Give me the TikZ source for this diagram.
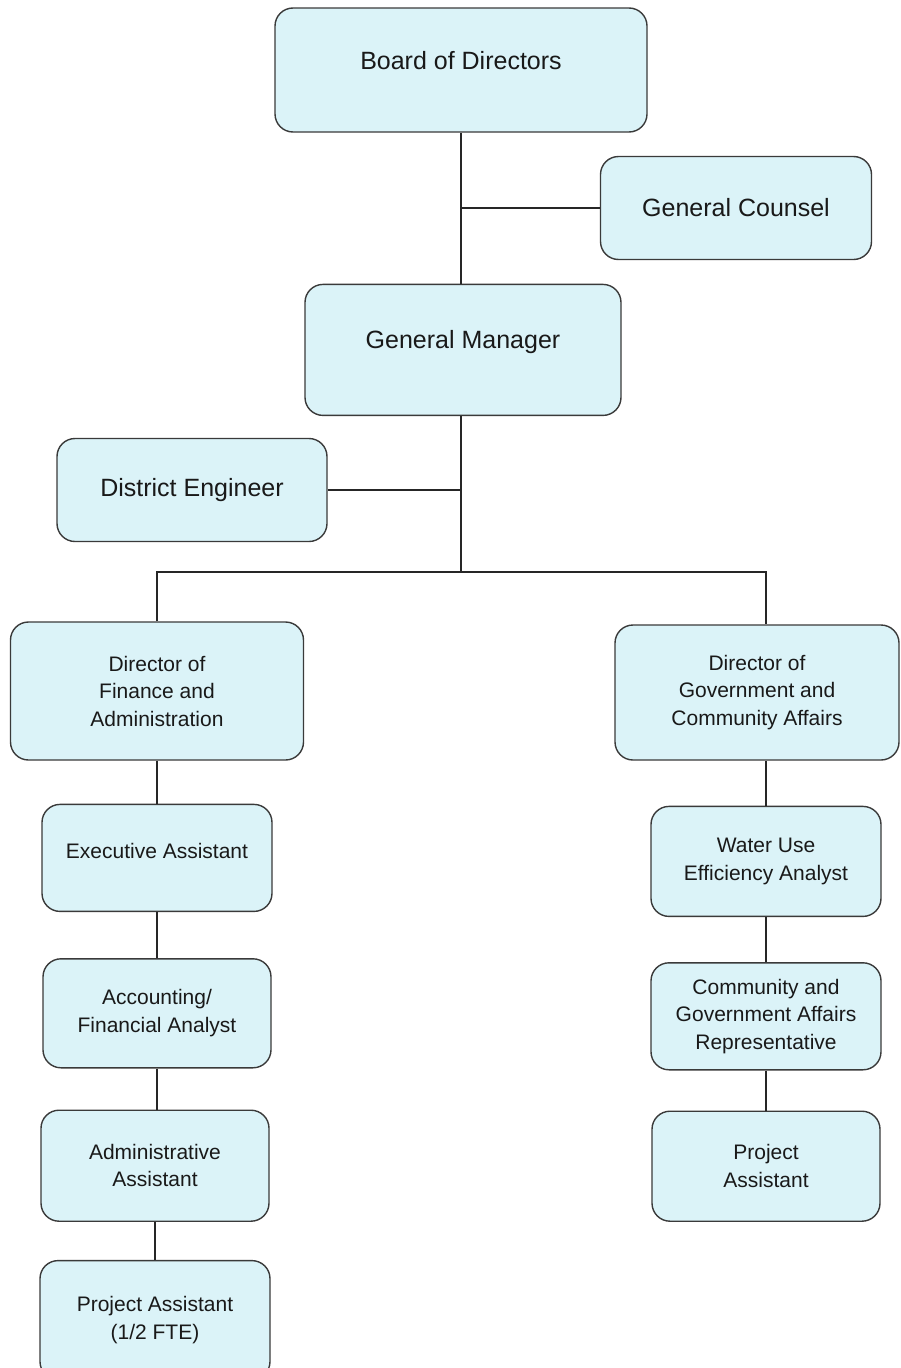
\documentclass[tikz,border=0pt]{standalone}
\usepackage{fontspec}
\setmainfont{Liberation Sans}
\usetikzlibrary{positioning}
\definecolor{boxfill}{HTML}{DBF3F8}
\definecolor{boxline}{HTML}{3A3A3A}

\begin{document}
\begin{tikzpicture}[x=1pt,y=1pt,
	post/.style={draw=boxline,fill=boxfill,line width=1.4pt,rounded corners=18pt,
		align=center,inner sep=0pt,text=black!90},
	toppost/.style={post,font=\fontsize{25}{30}\selectfont},
	staffpost/.style={post,font=\fontsize{21}{27.5}\selectfont},
	link/.style={line width=1.4pt,black!85}]
\useasboundingbox (0,0) rectangle (900,-1368);
\clip (0,0) rectangle (900,-1368);

\node(board)		[toppost,minimum width=372pt,minimum height=124pt,text depth=20pt] at (461,-70)
{Board of Directors};
\node(counsel)		[toppost,minimum width=271pt,minimum height=103pt] at (736,-208)
{General Counsel};
\node(gm)			[toppost,minimum width=316pt,minimum height=131pt,text depth=20pt,below=151pt of board,xshift=2pt]
{General Manager};
\node(engineer)		[toppost,minimum width=270pt,minimum height=103pt] at (192,-490)
{District Engineer};
\coordinate(hub)	at (461,-572);

\node(finance)		[staffpost,minimum width=293pt,minimum height=138pt] at (157,-691)
{Director of\\Finance and\\Administration};
\node(govt)			[staffpost,minimum width=284pt,minimum height=135pt] at (757,-692.5)
{Director of\\Government and\\Community Affairs};

\node(exec)			[staffpost,minimum width=230pt,minimum height=107pt,text depth=14pt,below=43pt of finance]
{Executive Assistant};
\node(acct)			[staffpost,minimum width=228pt,minimum height=109pt,below=46pt of exec]
{Accounting/\\Financial Analyst};
\node(admin)		[staffpost,minimum width=228pt,minimum height=111pt,below=41pt of acct,xshift=-2pt]
{Administrative\\Assistant};
\node(projfte)		[staffpost,minimum width=230pt,minimum height=119pt,below=38pt of admin]
{Project Assistant\\(1/2 FTE)};

\node(wue)			[staffpost,minimum width=230pt,minimum height=110pt,below=45pt of govt,xshift=9pt]
{Water Use\\Efficiency Analyst};
\node(cgar)			[staffpost,minimum width=230pt,minimum height=107pt,below=45pt of wue]
{Community and\\Government Affairs\\Representative};
\node(projga)		[staffpost,minimum width=228pt,minimum height=110pt,below=40pt of cgar]
{Project\\Assistant};

\draw[link](board)			-- (board.south |- gm.north);
\draw[link](counsel.west)	-- (counsel.west -| board.south);
\draw[link](gm.south -| hub)	-- (hub);
\draw[link](engineer.east)	-- (engineer.east -| hub);
\draw[link](finance.north)	|- (hub) -| (wue.north |- govt.north);
\draw[link](finance)		-- (exec);
\draw[link](exec)			-- (acct);
\draw[link](acct.south)		-- (acct.south |- admin.north);
\draw[link](admin)			-- (projfte);
\draw[link](wue.north)		-- (wue.north |- govt.south);
\draw[link](wue)			-- (cgar);
\draw[link](cgar)			-- (projga);
\end{tikzpicture}
\end{document}
